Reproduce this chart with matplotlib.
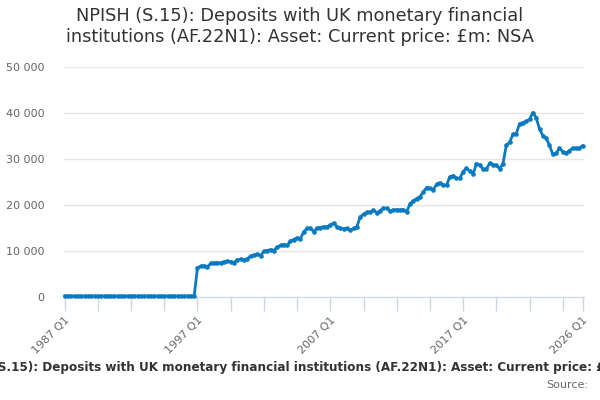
import numpy as np
import matplotlib
matplotlib.use("Agg")
import matplotlib.pyplot as plt
from matplotlib.ticker import FuncFormatter

title = "NPISH (S.15): Deposits with UK monetary financial\ninstitutions (AF.22N1): Asset: Current price: £m: NSA"
series_name = "NPISH (S.15): Deposits with UK monetary financial institutions (AF.22N1): Asset: Current price: £m: NSA"

start_year = 1987
# quarterly values, 1987 Q1 .. 2026 Q1 (£m)
values = [
    200, 200, 200, 200,   # 1987
    200, 200, 200, 200,   # 1988
    200, 200, 200, 200,   # 1989
    200, 200, 200, 200,   # 1990
    200, 200, 200, 200,   # 1991
    200, 200, 200, 200,   # 1992
    200, 200, 200, 200,   # 1993
    200, 200, 200, 200,   # 1994
    200, 200, 200, 200,   # 1995
    200, 200, 200, 200,   # 1996
    6400, 6700, 6800, 6600,     # 1997
    7300, 7400, 7500, 7400,     # 1998
    7700, 7800, 7700, 7500,     # 1999
    8100, 8200, 8100, 8300,     # 2000
    8900, 9100, 9300, 9000,     # 2001
    9900, 10100, 10300, 10100,  # 2002
    10900, 11200, 11400, 11200, # 2003
    12200, 12500, 12900, 12700, # 2004
    14200, 14900, 15000, 14200, # 2005
    15000, 15100, 15300, 15200, # 2006
    15700, 16000, 15300, 14900, # 2007
    14800, 14900, 14500, 14900, # 2008
    15300, 17400, 18000, 18400, # 2009
    18500, 18900, 18300, 18800, # 2010
    19300, 19300, 18700, 18900, # 2011
    19000, 18900, 19000, 18500, # 2012
    20300, 20900, 21400, 21800, # 2013
    22800, 23800, 23600, 23300, # 2014
    24500, 24850, 24400, 24300, # 2015
    26150, 26400, 25800, 25800, # 2016
    27250, 28000, 27400, 26700, # 2017
    29000, 28700, 27800, 27800, # 2018
    29100, 28800, 28600, 27900, # 2019
    29000, 33000, 33600, 35400, # 2020
    35500, 37700, 37900, 38200, # 2021
    38600, 40100, 39000, 36500, # 2022
    35100, 34500, 33000, 31000, # 2023
    31200, 32400, 31600, 31300, # 2024
    31800, 32400, 32300, 32400, # 2025
    32900,                      # 2026
]

labels = ["%d Q%d" % (start_year + i // 4, i % 4 + 1) for i in range(len(values))]
x = np.arange(len(values))

fig = plt.figure(figsize=(6, 4), dpi=100)
ax = fig.add_axes([64 / 600, 1 - 297 / 400, 520 / 600, 230 / 400])

ax.plot(x, values, color="#0b7bc1", lw=2, marker="o", ms=2.3, clip_on=False, zorder=3)

ax.set_ylim(0, 50000)
ax.set_xlim(-0.2, 156.4)
ax.set_yticks(np.arange(0, 50001, 10000))
ax.yaxis.set_major_formatter(FuncFormatter(lambda v, p: "{:,.0f}".format(v).replace(",", " ")))
ax.grid(axis="y", color="#e6e6e6", lw=1)
ax.set_axisbelow(True)

ticks = list(range(0, 151, 10)) + [156]
shown = {0, 40, 80, 120, 156}
ax.set_xticks(ticks)
ax.set_xticklabels([labels[t] if t in shown else "" for t in ticks],
                   rotation=45, ha="right", rotation_mode="anchor")

for s in ["top", "right", "left"]:
    ax.spines[s].set_visible(False)
ax.spines["bottom"].set_color("#ccd6eb")
ax.tick_params(axis="x", colors="#ccd6eb", length=10, width=1, labelcolor="#666666",
               labelsize=8, pad=3)
ax.tick_params(axis="y", length=0, labelcolor="#666666", labelsize=8, pad=14)

fig.text(0.5, 0.982, title, ha="center", va="top", fontsize=12.8, color="#333333",
         linespacing=1.2)
fig.text(0.5, 1 - 368 / 400, series_name, ha="center", va="center", fontsize=8.65,
         fontweight="bold", color="#333333")
fig.text(588 / 600, 1 - 385 / 400, "Source:", ha="right", va="center", fontsize=8,
         color="#666666")

fig.savefig("out.png", dpi=100)
